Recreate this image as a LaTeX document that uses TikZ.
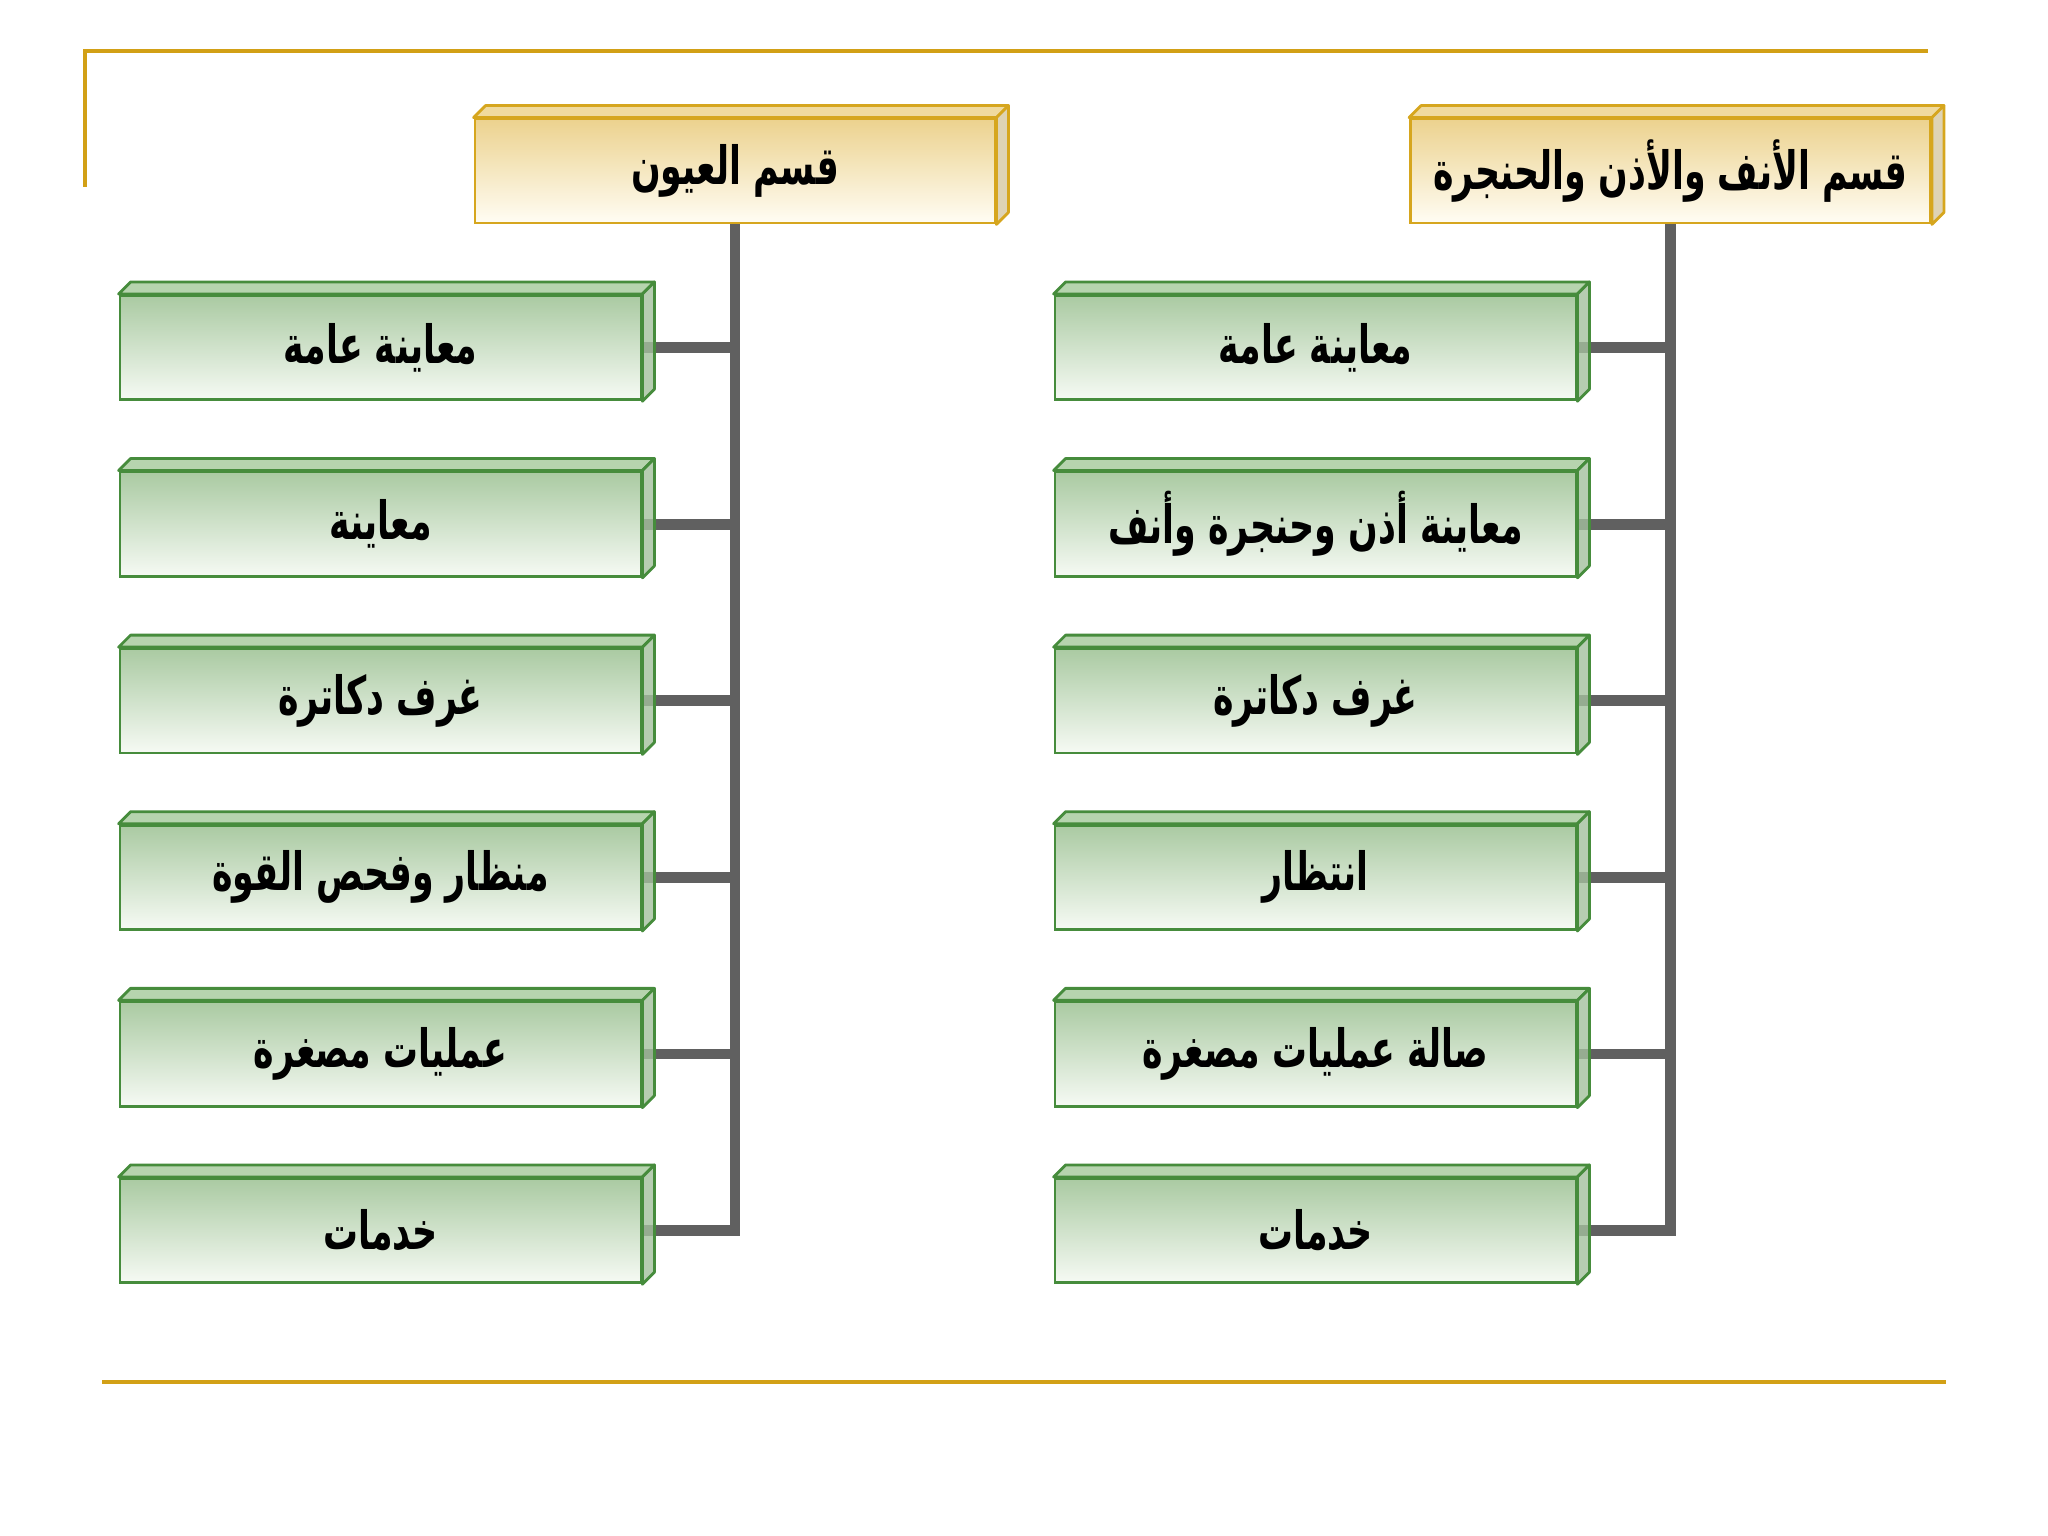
\documentclass[tikz,border=0pt]{standalone}
\usepackage{fontspec}
\usepackage{xcolor}
\usepackage{tikz}
\usetikzlibrary{shapes}
\newfontfamily\arabicfont[Script=Arabic, FakeStretch=0.66]{DejaVu Sans}
\TeXXeTstate=1
\definecolor{framegold}{RGB}{210,160,22}
\definecolor{hdrline}{RGB}{214,166,30}
\definecolor{hdrtop}{RGB}{236,210,142}
\definecolor{hdrbot}{RGB}{255,253,244}
\definecolor{hdrlid}{RGB}{240,218,158}
\definecolor{hdrside}{RGB}{214,200,162}
\definecolor{grnline}{RGB}{70,140,60}
\definecolor{grntop}{RGB}{170,202,162}
\definecolor{grnbot}{RGB}{246,250,244}
\definecolor{grnlid}{RGB}{182,212,174}
\definecolor{grnside}{RGB}{164,192,158}
\definecolor{trunkgray}{RGB}{96,96,96}
\tikzstyle{header} = [rectangle, minimum width=5.2cm, minimum height=1.04cm, text centered, draw=hdrline, line width=0.8pt, top color=hdrtop, bottom color=hdrbot, font=\arabicfont\bfseries\fontsize{15}{18}\selectfont]
\tikzstyle{room} = [rectangle, minimum width=5.21cm, minimum height=1.045cm, text centered, draw=grnline, line width=0.8pt, top color=grntop, bottom color=grnbot, font=\arabicfont\bfseries\fontsize{15}{18}\selectfont]
\tikzstyle{trunk} = [line width=3.1pt, draw=trunkgray]
\tikzstyle{frameline} = [line width=1.2pt, draw=framegold]

\begin{document}
\begin{tikzpicture}[node distance = 1.766cm]
\useasboundingbox (0,0) rectangle (20.48,-15.36);
\draw [frameline] (0.85,-1.87) |- (19.28,-0.51);
\draw [frameline] (1.02,-13.82) -- (19.46,-13.82);

\node (eyes) [header] at (7.35,-1.71) {\beginR قسم العيون\endR};
\node (eye1) [room, below of=eyes, xshift=-3.545cm] {\beginR معاينة عامة\endR};
\node (eye2) [room, below of=eye1] {\beginR معاينة\endR};
\node (eye3) [room, below of=eye2] {\beginR غرف دكاترة\endR};
\node (eye4) [room, below of=eye3] {\beginR منظار وفحص القوة\endR};
\node (eye5) [room, below of=eye4] {\beginR عمليات مصغرة\endR};
\node (eye6) [room, below of=eye5] {\beginR خدمات\endR};

\node (ent) [header] at (16.705,-1.71) {\beginR قسم الأنف والأذن والحنجرة\endR};
\node (ent1) [room, below of=ent, xshift=-3.55cm] {\beginR معاينة عامة\endR};
\node (ent2) [room, below of=ent1] {\beginR معاينة أذن وحنجرة وأنف\endR};
\node (ent3) [room, below of=ent2] {\beginR غرف دكاترة\endR};
\node (ent4) [room, below of=ent3] {\beginR انتظار\endR};
\node (ent5) [room, below of=ent4] {\beginR صالة عمليات مصغرة\endR};
\node (ent6) [room, below of=ent5] {\beginR خدمات\endR};

%---------------------------------CONNECTORS
\draw [trunk] (eyes.south) |- (eye6.east);
\draw [trunk] (eye1.east) -- (eye1.east -| eyes.south);
\draw [trunk] (eye2.east) -- (eye2.east -| eyes.south);
\draw [trunk] (eye3.east) -- (eye3.east -| eyes.south);
\draw [trunk] (eye4.east) -- (eye4.east -| eyes.south);
\draw [trunk] (eye5.east) -- (eye5.east -| eyes.south);
\draw [trunk] (ent.south) |- (ent6.east);
\draw [trunk] (ent1.east) -- (ent1.east -| ent.south);
\draw [trunk] (ent2.east) -- (ent2.east -| ent.south);
\draw [trunk] (ent3.east) -- (ent3.east -| ent.south);
\draw [trunk] (ent4.east) -- (ent4.east -| ent.south);
\draw [trunk] (ent5.east) -- (ent5.east -| ent.south);

%---------------------------------3D FACES
\foreach \n/\c/\s/\l in {eyes/hdrlid/hdrside/hdrline, ent/hdrlid/hdrside/hdrline,
  eye1/grnlid/grnside/grnline, eye2/grnlid/grnside/grnline, eye3/grnlid/grnside/grnline,
  eye4/grnlid/grnside/grnline, eye5/grnlid/grnside/grnline, eye6/grnlid/grnside/grnline,
  ent1/grnlid/grnside/grnline, ent2/grnlid/grnside/grnline, ent3/grnlid/grnside/grnline,
  ent4/grnlid/grnside/grnline, ent5/grnlid/grnside/grnline, ent6/grnlid/grnside/grnline}{
  \filldraw [fill=\c, draw=\l, line width=0.8pt, line join=round] (\n.north west) -- ([shift={(0.12,0.12)}]\n.north west) -- ([shift={(0.12,0.12)}]\n.north east) -- (\n.north east) -- cycle;
  \filldraw [fill=\s, fill opacity=0.8, draw=\l, line width=0.8pt, line join=round] (\n.north east) -- ([shift={(0.12,0.12)}]\n.north east) -- ([shift={(0.12,0.12)}]\n.south east) -- (\n.south east) -- cycle;
}

\end{tikzpicture}
\end{document}
